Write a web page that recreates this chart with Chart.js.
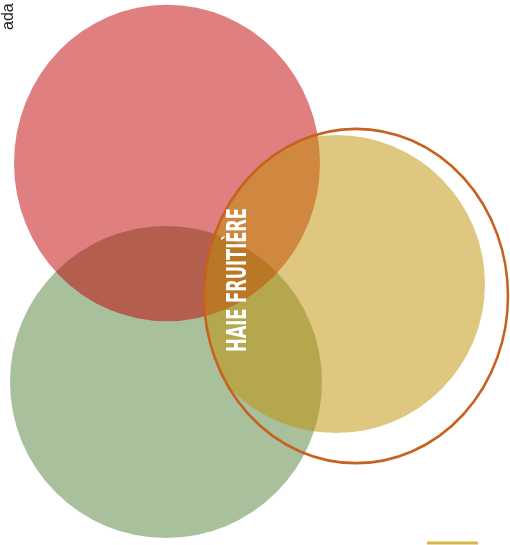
<!DOCTYPE html>
<html>
<head>
<meta charset="utf-8">
<script src="https://cdn.jsdelivr.net/npm/chart.js@4/dist/chart.umd.min.js"></script>
<style>
  html, body { margin: 0; padding: 0; background: #fff; }
  canvas { display: block; }
</style>
</head>
<body>
<canvas id="chart" width="510" height="545"></canvas>
<script>
// circles: centre, horizontal radius, vertical stretch
const circleNames = ['vert', 'rouge', 'jaune', 'anneau'];
const circleX = [166, 167, 336, 356];
const circleY = [382, 163, 284, 296];
const circleR = [156, 153, 149, 152];
const circleStretch = [1.0, 1.035, 1.0, 1.1];
const circleFill = ['rgba(81,129,57,0.5)', 'rgba(193,0,0,0.5)', 'rgba(193,143,0,0.5)', 'rgba(0,0,0,0)'];
const circleStroke = ['rgba(0,0,0,0)', 'rgba(0,0,0,0)', 'rgba(0,0,0,0)', '#c8601e'];
const circleBorder = [0, 0, 0, 2.5];
// the yellow disc is cut by the ring
const clipToCircle = [null, null, 3, null];

// label in the middle and the clipped side label
const centerLabel = 'HAIE FRUITIÈRE';
const centerLabelPos = [238, 280];
const sideLabel = 'ada';
const sideLabelPos = [9, 30];

// small rule bottom right
const ruleX = [427, 478];
const ruleY = [543, 543];

const ctx = document.getElementById('chart').getContext('2d');

const datasets = circleNames.map((name, i) => ({
    type: 'bubble',
    label: name,
    data: [{ x: circleX[i], y: circleY[i], r: circleR[i] }],
    backgroundColor: circleFill[i],
    borderColor: circleStroke[i],
    borderWidth: circleBorder[i],
    stretch: circleStretch[i],
    clipTo: clipToCircle[i],
    order: circleNames.length - i
}));

datasets.push({
    type: 'line',
    label: 'trait',
    data: ruleX.map((x, i) => ({ x: x, y: ruleY[i] })),
    borderColor: '#d6b548',
    borderWidth: 3,
    pointRadius: 0,
    order: 0
});

// stretches a bubble into an ellipse, and clips one disc to another
const shapePlugin = {
    id: 'shapes',
    beforeDatasetDraw(chart, args) {
        const ds = chart.data.datasets[args.index];
        if (ds.type !== 'bubble') return;
        const c = chart.ctx;
        const xs = chart.scales.x, ys = chart.scales.y;
        c.save();
        if (ds.clipTo !== null && ds.clipTo !== undefined) {
            const k = ds.clipTo;
            const cx = xs.getPixelForValue(circleX[k]);
            const cy = ys.getPixelForValue(circleY[k]);
            c.beginPath();
            c.ellipse(cx, cy, circleR[k], circleR[k] * circleStretch[k], 0, 0, Math.PI * 2);
            c.clip();
        }
        if (ds.stretch && ds.stretch !== 1) {
            const p = ds.data[0];
            const cx = xs.getPixelForValue(p.x);
            const cy = ys.getPixelForValue(p.y);
            c.translate(cx, cy);
            c.scale(1, ds.stretch);
            c.translate(-cx, -cy);
        }
    },
    afterDatasetDraw(chart, args) {
        const ds = chart.data.datasets[args.index];
        if (ds.type !== 'bubble') return;
        chart.ctx.restore();
    }
};

// draws the rotated texts
const labelPlugin = {
    id: 'labels',
    afterDatasetsDraw(chart) {
        const c = chart.ctx;
        const xs = chart.scales.x, ys = chart.scales.y;

        c.save();
        c.translate(xs.getPixelForValue(centerLabelPos[0]), ys.getPixelForValue(centerLabelPos[1]));
        c.rotate(-Math.PI / 2);
        c.fillStyle = '#ffffff';
        c.font = 'bold 27px "DejaVu Sans", sans-serif';
        c.textAlign = 'center';
        c.textBaseline = 'middle';
        const w = c.measureText(centerLabel).width;
        c.scale(144 / w, 1);
        c.fillText(centerLabel, 0, 1);
        c.restore();

        c.save();
        c.translate(xs.getPixelForValue(sideLabelPos[0]), ys.getPixelForValue(sideLabelPos[1]));
        c.rotate(-Math.PI / 2);
        c.fillStyle = '#222222';
        c.font = '16px "Liberation Sans", sans-serif';
        c.textAlign = 'left';
        c.textBaseline = 'middle';
        c.fillText(sideLabel, 0, 0);
        c.restore();
    }
};

new Chart(ctx, {
    type: 'bubble',
    data: { datasets: datasets },
    options: {
        responsive: false,
        animation: false,
        events: [],
        layout: { padding: 0, autoPadding: false },
        clip: false,
        scales: {
            x: { type: 'linear', min: 0, max: 510, display: false },
            y: { type: 'linear', min: 0, max: 545, reverse: true, display: false }
        },
        plugins: {
            legend: { display: false },
            tooltip: { enabled: false }
        }
    },
    plugins: [shapePlugin, labelPlugin]
});
</script>
</body>
</html>
